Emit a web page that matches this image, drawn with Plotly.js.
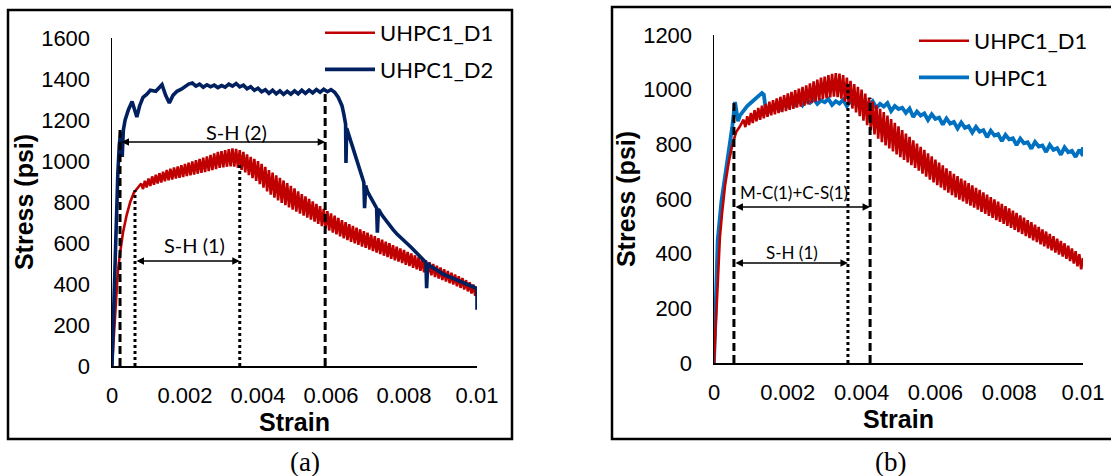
<!DOCTYPE html>
<html>
<head>
<meta charset="utf-8">
<script src="https://cdn.plot.ly/plotly-3.0.1.min.js"></script>
<style>
  html, body { margin: 0; padding: 0; background: #fff; }
  #chart { width: 1111px; height: 476px; }
</style>
</head>
<body>
<div id="chart"></div>
<script>
// UHPC1_D1 stress-strain record (sawtooth load signal), used in both panels
const d1Strain = [0, 0.00005, 0.0001, 0.00016, 0.00022, 0.0003, 0.0004, 0.0005, 0.0006, 0.0007,
  0.0008, 0.00085, 0.0009, 0.00095, 0.0010, 0.00105, 0.0011, 0.00115, 0.0012, 0.00125,
  0.0013, 0.00135, 0.0014, 0.00145, 0.0015, 0.00155, 0.0016, 0.00165, 0.0017, 0.00175,
  0.0018, 0.00185, 0.0019, 0.00195, 0.0020, 0.00205, 0.0021, 0.00215, 0.0022, 0.00225,
  0.0023, 0.00235, 0.0024, 0.00245, 0.0025, 0.00255, 0.0026, 0.00265, 0.0027, 0.00275,
  0.0028, 0.00285, 0.0029, 0.00295, 0.0030, 0.00305, 0.0031, 0.00315, 0.0032, 0.00325,
  0.0033, 0.00335, 0.0034, 0.00345, 0.0035, 0.00355, 0.0036, 0.00365, 0.0037, 0.00375,
  0.0038, 0.00385, 0.0039, 0.00395, 0.0040, 0.00405, 0.0041, 0.00415, 0.0042, 0.00425,
  0.0043, 0.00435, 0.0044, 0.00445, 0.0045, 0.00455, 0.0046, 0.00465, 0.0047, 0.00475,
  0.0048, 0.00485, 0.0049, 0.00495, 0.0050, 0.00505, 0.0051, 0.00515, 0.0052, 0.00525,
  0.0053, 0.00535, 0.0054, 0.00545, 0.0055, 0.00555, 0.0056, 0.00565, 0.0057, 0.00575,
  0.0058, 0.00585, 0.0059, 0.00595, 0.0060, 0.00605, 0.0061, 0.00615, 0.0062, 0.00625,
  0.0063, 0.00635, 0.0064, 0.00645, 0.0065, 0.00655, 0.0066, 0.00665, 0.0067, 0.00675,
  0.0068, 0.00685, 0.0069, 0.00695, 0.0070, 0.00705, 0.0071, 0.00715, 0.0072, 0.00725,
  0.0073, 0.00735, 0.0074, 0.00745, 0.0075, 0.00755, 0.0076, 0.00765, 0.0077, 0.00775,
  0.0078, 0.00785, 0.0079, 0.00795, 0.0080, 0.00805, 0.0081, 0.00815, 0.0082, 0.00825,
  0.0083, 0.00835, 0.0084, 0.00845, 0.0085, 0.00855, 0.0086, 0.00865, 0.0087, 0.00875,
  0.0088, 0.00885, 0.0089, 0.00895, 0.0090, 0.00905, 0.0091, 0.00915, 0.0092, 0.00925,
  0.0093, 0.00935, 0.0094, 0.00945, 0.0095, 0.00955, 0.0096, 0.00965, 0.0097, 0.00975,
  0.0098, 0.00985, 0.0099, 0.00995, 0.0100];
const d1Stress = [0, 150, 320, 460, 550, 650, 735, 800, 845, 865,
  890, 863, 903, 871, 915, 878, 925, 884, 933, 890,
  941, 895, 948, 901, 956, 906, 962, 910, 968, 914,
  974, 918, 980, 922, 986, 926, 992, 930, 998, 934,
  1004, 938, 1010, 942, 1016, 946, 1023, 951, 1030, 956,
  1037, 961, 1044, 966, 1048, 969, 1053, 972, 1058, 974,
  1061, 973, 1059, 967, 1053, 957, 1044, 945, 1032, 931,
  1020, 917, 1010, 903, 1000, 887, 986, 870, 971, 852,
  956, 836, 943, 821, 930, 808, 918, 796, 905, 785,
  892, 774, 879, 763, 866, 753, 852, 743, 839, 734,
  827, 724, 815, 714, 803, 704, 791, 693, 780, 682,
  767, 671, 756, 661, 744, 651, 733, 642, 723, 632,
  712, 623, 702, 614, 692, 606, 684, 598, 675, 591,
  667, 583, 658, 576, 650, 568, 641, 561, 633, 553,
  624, 546, 616, 538, 607, 531, 599, 523, 590, 516,
  582, 509, 574, 502, 566, 494, 557, 487, 549, 479,
  540, 472, 532, 464, 523, 457, 515, 449, 506, 442,
  498, 434, 489, 427, 481, 419, 472, 412, 464, 404,
  455, 397, 447, 389, 438, 381, 429, 373, 419, 364,
  409, 354, 398, 343, 384];

// UHPC1_D2 stress-strain record
const d2Strain = [0, 0.00004, 0.00008, 0.00012, 0.00016, 0.0002, 0.00024, 0.00028, 0.00031, 0.00036,
  0.00045, 0.00055, 0.00062, 0.00068, 0.00076, 0.00085, 0.00095, 0.00105, 0.0012, 0.0013,
  0.00137, 0.00147, 0.00157, 0.00167, 0.00178, 0.0019, 0.0020, 0.0021, 0.0022, 0.0023,
  0.0024, 0.0025, 0.0026, 0.0027, 0.0028, 0.0029, 0.0030, 0.0031, 0.0032, 0.0033,
  0.0034, 0.0035, 0.0036, 0.0037, 0.0038, 0.0039, 0.0040, 0.0041, 0.0042, 0.0043,
  0.0044, 0.0045, 0.0046, 0.0047, 0.0048, 0.0049, 0.0050, 0.0051, 0.0052, 0.0053,
  0.0054, 0.0055, 0.0056, 0.0057, 0.0058, 0.0059, 0.0060, 0.0061, 0.0062, 0.0063,
  0.00635, 0.0064, 0.00641, 0.00643, 0.0065, 0.0066, 0.0067, 0.0068, 0.0069, 0.00692,
  0.00695, 0.0070, 0.0071, 0.0072, 0.00725, 0.00727, 0.0073, 0.0074, 0.0075, 0.0076,
  0.0077, 0.0078, 0.0079, 0.0080, 0.0081, 0.0082, 0.0083, 0.0084, 0.0085, 0.0086,
  0.00862, 0.00865, 0.0087, 0.0088, 0.0089, 0.0090, 0.0091, 0.0092, 0.0093, 0.0094,
  0.0095, 0.0096, 0.0097, 0.0098, 0.0099, 0.0100, 0.0100];
const d2Stress = [0, 250, 530, 760, 940, 1080, 1140, 1020, 1150, 1200,
  1250, 1290, 1240, 1215, 1270, 1310, 1325, 1345, 1340, 1360,
  1372, 1320, 1283, 1320, 1340, 1350, 1365, 1375, 1380, 1365,
  1375, 1360, 1372, 1362, 1370, 1358, 1368, 1360, 1375, 1365,
  1378, 1362, 1370, 1352, 1362, 1345, 1355, 1338, 1348, 1330,
  1345, 1328, 1342, 1325, 1340, 1326, 1342, 1328, 1345, 1330,
  1346, 1332, 1348, 1335, 1350, 1338, 1348, 1335, 1310, 1270,
  1230, 1180, 990, 1160, 1120, 1060, 1000, 945, 895, 770,
  880, 850, 815, 785, 770, 650, 765, 735, 710, 685,
  665, 645, 630, 612, 595, 578, 560, 540, 520, 505,
  380, 500, 490, 478, 466, 455, 446, 438, 430, 422,
  415, 407, 400, 393, 386, 378, 275];

// UHPC1 stress-strain record
const u1Strain = [0, 0.00005, 0.0001, 0.0002, 0.0003, 0.0004, 0.0005, 0.00057, 0.00065, 0.0007,
  0.0008, 0.0009, 0.0010, 0.0011, 0.0012, 0.0013, 0.00135, 0.0014, 0.00146, 0.0015,
  0.0016, 0.0017, 0.0018, 0.0019, 0.0020, 0.0021, 0.0022, 0.0023, 0.0024, 0.0025,
  0.0026, 0.0027, 0.0028, 0.0029, 0.0030, 0.0031, 0.0032, 0.0033, 0.0034, 0.0035,
  0.0036, 0.0037, 0.0038, 0.0039, 0.0040, 0.0041, 0.0042, 0.0043, 0.0044, 0.0045,
  0.0046, 0.0047, 0.0048, 0.0049, 0.0050, 0.0051, 0.0052, 0.0053, 0.0054, 0.0055,
  0.0056, 0.0057, 0.0058, 0.0059, 0.0060, 0.0061, 0.0062, 0.0063, 0.0064, 0.0065,
  0.0066, 0.0067, 0.0068, 0.0069, 0.0070, 0.0071, 0.0072, 0.0073, 0.0074, 0.0075,
  0.0076, 0.0077, 0.0078, 0.0079, 0.0080, 0.0081, 0.0082, 0.0083, 0.0084, 0.0085,
  0.0086, 0.0087, 0.0088, 0.0089, 0.0090, 0.0091, 0.0092, 0.0093, 0.0094, 0.0095,
  0.0096, 0.0097, 0.0098, 0.0099, 0.0100, 0.0100];
const u1Stress = [0, 230, 450, 590, 680, 790, 870, 955, 885, 905,
  925, 940, 952, 965, 978, 988, 982, 930, 915, 935,
  928, 947, 930, 952, 940, 955, 944, 963, 943, 960,
  952, 966, 948, 961, 954, 966, 944, 958, 949, 963,
  940, 957, 950, 961, 938, 955, 943, 958, 933, 948,
  938, 951, 922, 940, 929, 934, 915, 931, 900, 920,
  905, 913, 889, 910, 893, 898, 872, 895, 876, 882,
  858, 880, 860, 866, 843, 864, 846, 852, 826, 850,
  832, 837, 812, 835, 818, 822, 797, 821, 804, 808,
  784, 809, 792, 796, 772, 798, 780, 786, 762, 789,
  771, 776, 754, 780, 758, 790];

// Stage boundaries: strain and the stress where each marker line stops
const stageA = { dashStrain: [0.00022, 0.00584], dashTop: [1160, 1345],
                 dotStrain: [0.00063, 0.0035], dotTop: [858, 990] };
const stageB = { dashStrain: [0.00054, 0.00423], dashTop: [962, 970],
                 dotStrain: [0.00363], dotTop: [1024] };

const strainTicks = [0, 0.002, 0.004, 0.006, 0.008, 0.01];
const strainTickText = ['0', '0.002', '0.004', '0.006', '0.008', '0.01'];
const stressTicksA = [0, 200, 400, 600, 800, 1000, 1200, 1400, 1600];
const stressTicksB = [0, 200, 400, 600, 800, 1000, 1200];

const RED = '#C00000', NAVY = '#002060', BLUE = '#0070C0';
const W = 1111, H = 476;
const px = v => v / W;          // pixel -> paper x
const py = v => 1 - v / H;      // pixel -> paper y

const traces = [
  { x: d1Strain, y: d1Stress, name: 'UHPC1_D1', type: 'scatter', mode: 'lines',
    line: { color: RED, width: 2.6 }, xaxis: 'x', yaxis: 'y',
    legend: 'legend', legendgroup: 'a1', legendrank: 1 },
  { x: d2Strain, y: d2Stress, name: 'UHPC1_D2', type: 'scatter', mode: 'lines',
    line: { color: NAVY, width: 3.6 }, xaxis: 'x', yaxis: 'y',
    legend: 'legend', legendgroup: 'a2', legendrank: 2 },
  { x: u1Strain, y: u1Stress, name: 'UHPC1', type: 'scatter', mode: 'lines',
    line: { color: BLUE, width: 3.8 }, xaxis: 'x2', yaxis: 'y2',
    legend: 'legend2', legendgroup: 'b2', legendrank: 2 },
  { x: d1Strain, y: d1Stress, name: 'UHPC1_D1', type: 'scatter', mode: 'lines',
    line: { color: RED, width: 2.6 }, xaxis: 'x2', yaxis: 'y2',
    legend: 'legend2', legendgroup: 'b1', legendrank: 1 }
];

const tickFont = { family: 'Liberation Sans, Arial, sans-serif', size: 22, color: '#000' };
const titleFont = { family: 'Liberation Sans, Arial, sans-serif', size: 25, color: '#000', weight: 'bold' };

function xAxis(domain, anchor) {
  return {
    domain, anchor, range: [0, 0.01], showgrid: false, zeroline: false,
    showline: true, linecolor: '#000', linewidth: 1.5,
    tickmode: 'array', tickvals: strainTicks, ticktext: strainTickText,
    ticks: 'outside', ticklen: 9, tickcolor: 'rgba(0,0,0,0)', tickfont: tickFont,
    title: { text: 'Strain', font: titleFont, standoff: 4 }
  };
}
function yAxis(domain, anchor, max, ticks) {
  return {
    domain, anchor, range: [0, max], showgrid: false, zeroline: false,
    showline: true, linecolor: '#000', linewidth: 1.5,
    tickmode: 'array', tickvals: ticks,
    ticks: 'outside', ticklen: 16, tickcolor: 'rgba(0,0,0,0)', tickfont: tickFont,
    title: { text: 'Stress (psi)', font: titleFont, standoff: 0 }
  };
}

const shapes = [
  // panel frames
  { type: 'rect', xref: 'paper', yref: 'paper', x0: px(8), x1: px(512), y0: py(439), y1: py(10),
    line: { color: '#000', width: 2.5 } },
  { type: 'rect', xref: 'paper', yref: 'paper', x0: px(612), x1: px(1120), y0: py(439), y1: py(7),
    line: { color: '#000', width: 2.5 } }
];
function stageLines(stage, xr, yr) {
  stage.dashStrain.forEach((s, i) => shapes.push({ type: 'line', xref: xr, yref: yr,
    x0: s, x1: s, y0: 0, y1: stage.dashTop[i], line: { color: '#000', width: 3, dash: '8px,4px' } }));
  stage.dotStrain.forEach((s, i) => shapes.push({ type: 'line', xref: xr, yref: yr,
    x0: s, x1: s, y0: 0, y1: stage.dotTop[i], line: { color: '#000', width: 3, dash: '3px,3px' } }));
}
stageLines(stageA, 'x', 'y');
stageLines(stageB, 'x2', 'y2');

function span(xr, yr, x0, x1, level) {
  return { xref: xr, yref: yr, axref: xr, ayref: yr, x: x1, y: level, ax: x0, ay: level,
    text: '', showarrow: true, arrowside: 'end+start', arrowhead: 2, startarrowhead: 2,
    arrowsize: 1, startarrowsize: 1, arrowwidth: 1.5, arrowcolor: '#000', standoff: 0, startstandoff: 0 };
}
const labelFont = size => ({ family: 'Lato, Open Sans, sans-serif', size, color: '#000' });
const captionFont = { family: 'Liberation Serif, Times New Roman, serif', size: 27, color: '#000' };

const annotations = [
  span('x', 'y', stageA.dashStrain[0], stageA.dashStrain[1], 1093),
  span('x', 'y', stageA.dotStrain[0], stageA.dotStrain[1], 512),
  span('x2', 'y2', stageB.dashStrain[0], stageB.dashStrain[1], 571),
  span('x2', 'y2', stageB.dashStrain[0], stageB.dotStrain[0], 366),
  { xref: 'x', yref: 'y', x: 0.0034, y: 1141, text: 'S-H (2)', showarrow: false, font: labelFont(20) },
  { xref: 'x', yref: 'y', x: 0.00227, y: 590, text: 'S-H (1)', showarrow: false, font: labelFont(20) },
  { xref: 'x2', yref: 'y2', x: 0.00217, y: 622, text: 'M-C(1)+C-S(1)', showarrow: false, font: labelFont(17) },
  { xref: 'x2', yref: 'y2', x: 0.00211, y: 406, text: 'S-H (1)', showarrow: false, font: labelFont(17) },
  { xref: 'paper', yref: 'paper', x: px(305), y: py(462), xanchor: 'center', yanchor: 'middle',
    text: '(a)', showarrow: false, font: captionFont },
  { xref: 'paper', yref: 'paper', x: px(890), y: py(462), xanchor: 'center', yanchor: 'middle',
    text: '(b)', showarrow: false, font: captionFont }
];

const legendBase = { xanchor: 'left', yanchor: 'top', bgcolor: 'rgba(0,0,0,0)', borderwidth: 0,
  font: { family: 'Lato, Open Sans, sans-serif', size: 22, color: '#000' }, itemwidth: 50,
  traceorder: 'grouped', tracegroupgap: 5 };

const layout = {
  width: W, height: H, margin: { l: 0, r: 0, t: 0, b: 0 },
  paper_bgcolor: '#fff', plot_bgcolor: 'rgba(0,0,0,0)', showlegend: true,
  xaxis: xAxis([px(112), px(477)], 'y'),
  yaxis: yAxis([py(366), py(38)], 'x', 1600, stressTicksA),
  xaxis2: xAxis([px(714), px(1083)], 'y2'),
  yaxis2: yAxis([py(363), py(35)], 'x2', 1200, stressTicksB),
  legend: Object.assign({}, legendBase, { x: px(320), y: py(12) }),
  legend2: Object.assign({}, legendBase, { x: px(914), y: py(20) }),
  shapes, annotations
};

Plotly.newPlot('chart', traces, layout, { staticPlot: true, displayModeBar: false });
</script>
</body>
</html>
